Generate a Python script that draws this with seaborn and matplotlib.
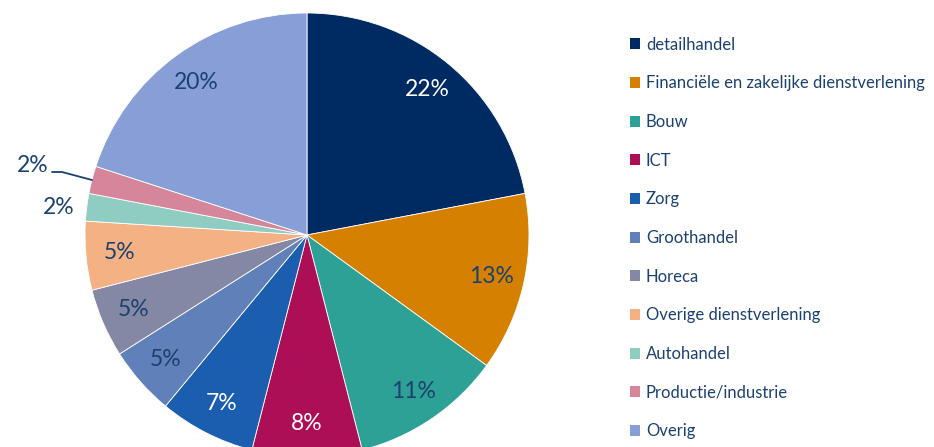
import matplotlib
matplotlib.use("Agg")
import matplotlib.pyplot as plt
import seaborn as sns
from matplotlib.patches import Patch

sectors = ["detailhandel", "Financiële en zakelijke dienstverlening", "Bouw", "ICT", "Zorg",
           "Groothandel", "Horeca", "Overige dienstverlening", "Autohandel",
           "Productie/industrie", "Overig"]
shares = [22, 13, 11, 8, 7, 5, 5, 5, 2, 2, 20]
colors = ["#002A62", "#D68000", "#2EA197", "#AC0F55", "#1B5DAF", "#5F80B8",
          "#8588A4", "#F4B183", "#8FCDC2", "#D5869A", "#879FD6"]
label_colors = ["white", "#1b4170", "#1b4170", "white", "white", "#1b4170",
                "#1b4170", "#1b4170", "#1b4170", "#1b4170", "#1b4170"]

sns.set_style("white")
plt.rcParams["font.family"] = ["Lato", "DejaVu Sans"]

fig = plt.figure(figsize=(9.34, 4.47), dpi=100)
ax = fig.add_axes([0, 0, 1, 1])

cx, cy, r = 307, 447 - 235, 222
wedges, texts, autotexts = ax.pie(
    shares, colors=colors, startangle=90, counterclock=False,
    center=(cx, cy), radius=r, autopct="%d%%", pctdistance=0.85,
    wedgeprops=dict(edgecolor="white", linewidth=0.6), frame=True)
ax.set_xlim(0, 934)
ax.set_ylim(0, 447)
ax.axis("off")

for t, c in zip(autotexts, label_colors):
    t.set_color(c)
    t.set_fontsize(16.5)

# small slices: labels outside
autotexts[8].set_position((59, 447 - 207))
autotexts[9].set_position((33, 447 - 166))
ax.plot([52, 62, 92], [447 - 172, 447 - 172, 447 - 180], color="#1b4170", lw=1.3)

handles = [Patch(facecolor=c, edgecolor="none") for c in colors]
leg = fig.legend(handles, sectors, loc="upper left", bbox_to_anchor=(623 / 934, 1 - 30 / 447),
                 frameon=False, fontsize=12, handlelength=0.62, handleheight=0.62,
                 handletextpad=0.35, labelspacing=1.36, borderaxespad=0)
for t in leg.get_texts():
    t.set_color("#1b4170")

fig.savefig("out.png", dpi=100)
